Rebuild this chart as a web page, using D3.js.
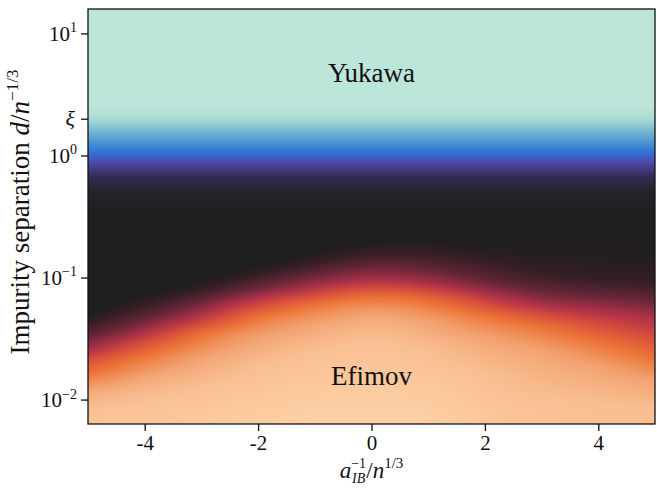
<!DOCTYPE html>
<html><head><meta charset="utf-8">
<script src="https://cdn.jsdelivr.net/npm/d3@7"></script>
<style>
body{margin:0;background:#fff}
</style>
</head><body>
<svg id="chart" width="657" height="491"></svg>
<script>
// ---- data ----
const xTicks = [-4, -2, 0, 2, 4];
const yTicks = [0.01, 0.1, 1, 10];
const xi = 2;                       // extra tick labelled ξ
const xDomain = [-5, 5];
const yDomain = [Math.pow(10, -2.2), Math.pow(10, 1.2)];
const xCols = [-5, -4, -3, -2, -1, 0, 1, 2, 3, 4, 5];
// upper (x-independent) profile: log10 d  -> colour-map position
const upperLogD = [0.40, 0.33, 0.19, 0.05, -0.02, -0.06, -0.14, -0.25, -0.36, -0.45];
const upperT    = [0.00, 0.04, 0.16, 0.25, 0.29, 0.32, 0.38, 0.44, 0.48, 0.50];
// lower profile: log10 d where each colour-map level is reached, per x column
const lowerT = [0.50, 0.56, 0.63, 0.70, 0.76, 0.82, 0.90, 0.95];
const lowerLogD = [
  [-1.25, -1.37, -1.49, -1.60, -1.68, -1.79, -1.92, -2.06],
  [-1.12, -1.23, -1.34, -1.46, -1.54, -1.64, -1.80, -1.97],
  [-0.99, -1.10, -1.19, -1.31, -1.39, -1.46, -1.66, -1.89],
  [-0.87, -0.97, -1.07, -1.16, -1.24, -1.31, -1.49, -1.71],
  [-0.75, -0.87, -0.97, -1.08, -1.15, -1.22, -1.38, -1.59],
  [-0.65, -0.77, -0.89, -1.01, -1.08, -1.15, -1.28, -1.46],
  [-0.62, -0.79, -0.93, -1.05, -1.12, -1.19, -1.36, -1.59],
  [-0.62, -0.87, -1.03, -1.14, -1.23, -1.31, -1.50, -1.79],
  [-0.63, -0.97, -1.12, -1.24, -1.32, -1.40, -1.60, -1.99],
  [-0.63, -1.01, -1.15, -1.28, -1.41, -1.53, -1.73, -2.04],
  [-0.63, -1.04, -1.18, -1.34, -1.51, -1.67, -1.86, -2.08]
];
const bottomT = [0.97, 0.97, 0.98, 0.99, 1.00, 1.00, 1.00, 0.97, 0.96, 0.95, 0.95];
// colour map (icefire-like)
const cmapT = [0.00, 0.08, 0.16, 0.25, 0.29, 0.32, 0.40, 0.46, 0.50, 0.53, 0.56, 0.63, 0.70, 0.76, 0.82, 0.90, 0.95, 1.00];
const cmapC = ["#bde6da", "#a3d6d3", "#6fb5d2", "#337dd6", "#3f5cc4", "#5048a8", "#342c55", "#24222c", "#1f1f21",
               "#221e1f", "#331e24", "#652637", "#af3248", "#d9503b", "#ec7437", "#f3a574", "#f9bf92", "#fdd2a8"];
const labels = {yukawa: "Yukawa", efimov: "Efimov"};

// ---- layout ----
const FONT = "'Liberation Serif', 'Times New Roman', serif";
const svg = d3.select("#chart");
const X0 = 88, X1 = 655, Y0 = 9, Y1 = 424;
const x = d3.scaleLinear().domain(xDomain).range([X0, X1]);
const y = d3.scaleLog().domain(yDomain).range([Y1, Y0]);
const cmap = d3.scaleLinear().domain(cmapT).range(cmapC).interpolate(d3.interpolateRgb).clamp(true);

// per column profile scales
const colScales = xCols.map((c, i) => {
  const L = upperLogD.concat(lowerLogD[i], [Math.log10(yDomain[0]) - 0.01]);
  const T = upperT.concat(lowerT, [bottomT[i]]);
  return d3.scaleLinear().domain(L).range(T).clamp(true);
});
const colPos = d3.scaleLinear().domain(xDomain).range([0, 1]).clamp(true);

// ---- heat map image ----
const W = X1 - X0, H = Y1 - Y0;
const cv = document.createElement("canvas");
cv.width = W; cv.height = H;
const ctx = cv.getContext("2d");
const img = ctx.createImageData(W, H);
for (let py = 0; py < H; py++) {
  const ld = Math.log10(y.invert(Y0 + py + 0.5));
  const rowT = colScales.map(s => s(ld));
  const interp = d3.interpolateBasis(rowT);
  for (let px = 0; px < W; px++) {
    const t = interp(colPos(x.invert(X0 + px + 0.5)));
    const c = d3.rgb(cmap(t));
    const k = (py * W + px) * 4;
    img.data[k] = c.r; img.data[k + 1] = c.g; img.data[k + 2] = c.b; img.data[k + 3] = 255;
  }
}
ctx.putImageData(img, 0, 0);
svg.append("image").attr("x", X0).attr("y", Y0).attr("width", W).attr("height", H)
  .attr("href", cv.toDataURL());

// frame
svg.append("rect").attr("x", X0).attr("y", Y0).attr("width", W).attr("height", H)
  .attr("fill", "none").attr("stroke", "#111").attr("stroke-width", 1.3);

// x axis
const gx = svg.append("g").attr("transform", `translate(0,${Y1})`)
  .call(d3.axisBottom(x).tickValues(xTicks).tickSize(7).tickSizeOuter(0).tickPadding(4)
    .tickFormat(d => d < 0 ? "-" + Math.abs(d) : String(d)));
gx.attr("font-family", null).attr("font-size", null);
gx.select(".domain").remove();
gx.selectAll(".tick line").attr("stroke", "#111").attr("stroke-width", 1.3);
gx.selectAll(".tick text").style("font-family", FONT).style("font-size", "21px").attr("fill", "#111");

// y axis
const gy = svg.append("g").attr("transform", `translate(${X0},0)`)
  .call(d3.axisLeft(y).tickValues(yTicks.concat([xi])).tickSize(7).tickSizeOuter(0).tickFormat(""));
gy.select(".domain").remove();
gy.selectAll(".tick line").attr("stroke", "#111").attr("stroke-width", 1.3);
const supOf = {"10": "1", "1": "0", "0.1": "\u22121", "0.01": "\u22122"};
yTicks.forEach(v => {
  const t = svg.append("text").attr("x", X0 - 11).attr("y", y(v)).attr("dy", "0.35em")
    .attr("text-anchor", "end").style("font-family", FONT).style("font-size", "21px").attr("fill", "#111");
  t.append("tspan").text("10");
  t.append("tspan").style("font-size", "14px").attr("dy", "-0.6em").text(supOf[String(v)]);
});
svg.append("text").attr("x", X0 - 13).attr("y", y(xi)).attr("dy", "0.35em")
  .attr("text-anchor", "end").style("font-family", FONT).style("font-size", "22px")
  .style("font-style", "italic").attr("fill", "#111").text("\u03BE");

// y label
const yl = svg.append("text").attr("transform", `translate(29,${212}) rotate(-90)`)
  .attr("text-anchor", "middle").style("font-family", FONT).style("font-size", "27px").attr("fill", "#111");
yl.append("tspan").text("Impurity separation ");
yl.append("tspan").style("font-style", "italic").text("d");
yl.append("tspan").text("/");
yl.append("tspan").style("font-style", "italic").text("n");
yl.append("tspan").style("font-size", "17px").attr("dy", -11).text("\u22121/3");

// x label
const xl = svg.append("text").attr("x", (X0 + X1) / 2).attr("y", 478)
  .attr("text-anchor", "middle").style("font-family", FONT).style("font-size", "23px").attr("fill", "#111");
xl.append("tspan").style("font-style", "italic").text("a");
xl.append("tspan").style("font-size", "14px").attr("dy", -10).text("\u22121");
xl.append("tspan").style("font-size", "14px").style("font-style", "italic").attr("dx", -14).attr("dy", 15).text("IB");
xl.append("tspan").attr("dy", -5).attr("dx", 1).text("/");
xl.append("tspan").style("font-style", "italic").text("n");
xl.append("tspan").style("font-size", "15px").attr("dy", -10).text("1/3");

// annotations
svg.append("text").attr("x", x(0)).attr("y", y(4.0)).attr("text-anchor", "middle")
  .style("font-family", FONT).style("font-size", "27px").attr("fill", "#111").text(labels.yukawa);
svg.append("text").attr("x", x(0)).attr("y", y(0.0132)).attr("text-anchor", "middle")
  .style("font-family", FONT).style("font-size", "27px").attr("fill", "#111").text(labels.efimov);
</script>
</body></html>
